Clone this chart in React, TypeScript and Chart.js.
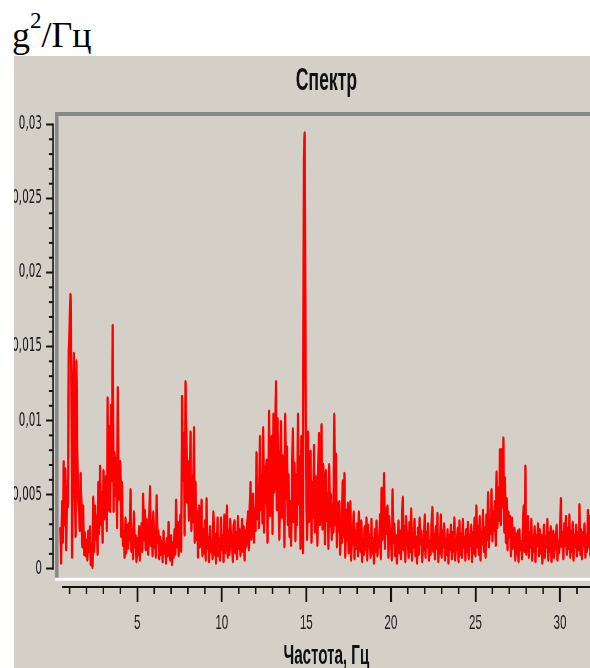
import { useEffect, useRef } from "react";
import { Chart, registerables } from "chart.js";

Chart.register(...registerables);

// ---------- texts ----------
const CHART_TITLE = "Спектр";
const X_AXIS_TITLE = "Частота, Гц";
const Y_UNIT_BASE = "g";
const Y_UNIT_POWER = "2";
const Y_UNIT_REST = "/Гц";

// ---------- axes ----------
const Y_TICKS = [0, 0.005, 0.01, 0.015, 0.02, 0.025, 0.03];
const X_TICKS = [5, 10, 15, 20, 25, 30];
const Y_MINOR_STEP = 0.001;
const X_MINOR_STEP = 1;
const X_VIEW_MIN = 0.018;
const X_VIEW_MAX = 32.35;
const Y_VIEW_MIN = -0.00124;
const Y_VIEW_MAX = 0.03064;
const X_AXIS_LINE_START = 0.55;

// ---------- spectrum (PSD, in 10^-3 g²/Гц), sampled every 0.05 Hz from 0.45 Hz ----------
const FREQ_START = 0.45;
const FREQ_STEP = 0.05;
const psd00 = [2.8,0.4,4.5,1.8,7.2,3.0,6.7,1.3,5.5,4.2,14.7,16.4,18.5,13.4,0.8,9.0,14.5,6.0,2.2,14.0,8.2,5.0,3.8,2.6,6.4,4.4,1.5,4.2,1.0,2.4,0.9,1.9,0.6,2.5,1.2,2.8,0.3,1.6,0.1,4.8];
const psd02 = [1.2,4.2,2.0,3.5,1.0,5.8,2.4,6.9,3.0,5.1,1.8,6.6,3.4,4.8,6.2,2.6,11.5,4.0,9.6,3.9,11.0,6.0,16.4,3.9,7.8,5.0,7.4,2.8,12.2,4.7,6.0,7.2,2.2,5.8,1.6,2.5,0.8,3.4,1.1,2.9];
const psd04 = [1.4,3.0,2.0,5.3,1.2,2.6,0.7,3.8,1.5,2.2,0.5,2.0,1.0,2.8,0.6,1.9,3.0,1.2,5.0,2.0,3.9,1.3,3.3,2.0,1.0,2.7,5.5,1.6,3.2,0.9,3.8,1.5,2.4,0.8,4.9,1.8,2.5,0.7,2.1,1.0];
const psd06 = [1.8,0.5,2.5,1.1,1.6,0.4,2.0,0.9,3.1,1.3,0.6,2.2,0.3,1.7,0.8,2.6,1.0,4.6,1.5,3.1,0.9,2.2,3.6,1.2,11.6,6.0,9.1,2.3,12.6,9.6,4.5,7.2,3.3,6.0,9.2,2.6,6.2,3.2,9.5,1.8];
const psd08 = [5.8,2.0,3.8,0.8,4.2,1.5,2.4,4.6,0.9,2.6,1.1,3.2,0.6,4.7,1.4,2.1,0.5,2.8,1.2,1.9,0.7,3.8,1.0,2.3,0.4,1.8,3.4,0.9,2.0,0.6,3.4,1.3,2.2,0.5,3.6,1.1,1.9,4.2,0.8,2.5];
const psd10 = [1.0,3.3,1.6,2.2,0.5,2.9,3.2,1.1,2.4,0.7,3.5,1.4,2.6,0.9,2.0,3.3,1.2,2.8,0.6,2.5,1.5,3.0,3.8,1.3,4.2,5.8,2.0,4.4,5.0,1.8,4.0,2.6,7.8,3.4,5.5,2.8,8.9,4.0,6.2,3.1];
const psd12 = [9.5,2.5,6.8,4.5,7.3,1.8,5.6,10.6,3.6,7.0,8.9,2.4,10.4,5.2,8.0,12.6,4.0,10.1,6.0,2.0,7.0,9.9,3.5,7.6,6.5,1.5,10.4,4.8,8.2,3.0,6.3,2.2,4.5,1.6,5.8,9.4,3.2,7.1,1.9,6.3];
const psd14 = [3.0,10.4,4.4,7.5,1.4,8.9,6.0,1.1,27.8,29.4,15.0,4.1,2.0,9.2,3.2,5.6,7.9,1.8,5.8,3.5,8.3,2.5,6.2,4.0,1.6,6.8,9.1,3.0,5.4,9.7,2.7,7.0,4.2,1.7,6.6,3.3,5.0,1.4,7.0,2.9];
const psd16 = [5.0,2.0,4.3,2.5,10.4,3.0,7.7,1.5,4.4,2.6,4.5,1.0,3.3,1.8,5.9,2.2,6.4,0.8,3.9,2.0,4.4,1.1,3.0,4.5,0.6,2.7,1.7,3.8,0.7,2.5,1.4,3.0,0.9,3.8,2.4,1.2,3.2,0.5,2.0,1.0];
const psd18 = [2.8,1.3,3.4,0.6,2.9,1.5,2.2,0.8,3.3,1.1,2.0,0.4,2.6,1.2,3.2,0.9,2.1,1.5,3.6,0.7,5.4,2.0,3.0,6.4,1.4,4.0,2.4,4.2,0.8,3.5,1.7,2.6,0.6,5.3,1.8,3.0,0.9,2.2,0.4,1.9];
const psd20 = [3.2,1.1,2.5,0.7,3.0,4.8,1.3,2.8,0.5,3.5,1.6,2.4,0.8,3.1,1.2,4.0,0.6,2.3,1.5,3.3,0.9,2.1,0.4,2.7,1.0,3.4,1.7,2.5,0.5,2.0,1.3,3.6,0.8,2.4,1.5,3.0,0.6,1.8,1.0,2.9];
const psd22 = [4.1,1.2,2.3,0.7,2.8,1.4,3.7,0.5,2.0,1.1,3.6,0.8,2.5,1.5,3.0,0.6,1.9,1.0,2.6,0.4,2.2,1.3,2.9,0.7,2.4,1.2,3.4,0.6,2.0,1.4,2.7,0.5,3.2,1.0,2.3,0.8,3.3,1.5,2.1,0.6];
const psd24 = [2.6,1.2,3.1,0.7,2.2,1.6,2.9,0.5,2.4,1.1,3.4,0.9,4.2,1.5,2.8,1.0,3.5,0.6,2.4,1.7,3.9,1.2,2.7,0.8,3.6,2.0,5.1,1.5,3.2,2.4,5.3,1.9,3.8,2.6,4.5,1.6,6.5,2.8,5.4,3.3];
const psd26 = [8.0,3.0,8.0,4.2,8.8,2.5,6.1,1.8,4.7,1.3,3.8,2.2,3.5,0.9,3.4,1.4,2.0,2.7,0.6,2.3,1.1,2.5,0.5,2.6,1.3,1.8,0.7,2.4,4.2,1.2,6.9,1.0,3.1,3.5,0.8,2.4,1.5,3.3,0.6,2.1];
const psd28 = [1.2,2.8,0.5,2.2,1.6,3.0,0.9,2.6,1.1,2.2,0.4,1.9,2.9,0.8,2.1,1.5,3.3,0.6,2.4,1.2,2.8,0.5,1.7,2.5,0.8,2.2,1.4,2.9,0.6,1.8,1.1,2.6,4.7,1.5,2.4,0.7,3.0,1.6,3.5,1.0];
const psd30 = [2.7,1.4,3.6,0.8,2.5,1.2,3.1,0.6,2.2,1.5,2.9,0.9,2.4,1.3,4.3,1.0,2.6,0.7,2.4,1.6,3.0,0.8,2.2,1.2,3.9,1.5,3.5,0.9,2.6,1.3,2.8];

const PSD_BLOCKS = [psd00, psd02, psd04, psd06, psd08, psd10, psd12, psd14, psd16, psd18, psd20, psd22, psd24, psd26, psd28, psd30];

// ---------- layout (the whole chart canvas is squeezed horizontally, like the original screenshot) ----------
const SQUEEZE = 0.55;
const CW = 1065;
const CH = 612;

const fmtTick = (v: number) => (Math.abs(v) < 1e-12 ? "0" : String(+v.toFixed(3)).replace(".", ","));

const decorPlugin = {
  id: "decor",
  beforeDatasetsDraw(chart: any) {
    const { ctx, chartArea: ca } = chart;
    ctx.save();
    ctx.lineCap = "butt";
    ctx.strokeStyle = "#878787";
    ctx.lineWidth = 4;
    ctx.beginPath();
    ctx.moveTo(ca.left + 4, ca.top - 1);
    ctx.lineTo(ca.right, ca.top - 1);
    ctx.stroke();
    ctx.lineWidth = 6;
    ctx.beginPath();
    ctx.moveTo(ca.left + 7, ca.top - 3);
    ctx.lineTo(ca.left + 7, ca.bottom - 9);
    ctx.stroke();
    ctx.strokeStyle = "#ffffff";
    ctx.lineWidth = 3;
    ctx.beginPath();
    ctx.moveTo(ca.left + 4, ca.bottom - 7.8);
    ctx.lineTo(ca.right, ca.bottom - 7.8);
    ctx.stroke();
    ctx.restore();
  },
  afterDraw(chart: any) {
    const { ctx, chartArea: ca, scales } = chart;
    const x = scales.x;
    const y = scales.y;
    ctx.save();
    ctx.strokeStyle = "#111";
    // y axis line (0 .. 0.03)
    ctx.lineWidth = 3;
    ctx.beginPath();
    ctx.moveTo(ca.left, y.getPixelForValue(Y_TICKS[0]) + 1);
    ctx.lineTo(ca.left, y.getPixelForValue(Y_TICKS[Y_TICKS.length - 1]) - 1);
    ctx.stroke();
    // y minor ticks
    ctx.lineWidth = 2;
    const yCount = Math.round((Y_TICKS[Y_TICKS.length - 1] - Y_TICKS[0]) / Y_MINOR_STEP);
    for (let k = 0; k <= yCount; k++) {
      const v = Y_TICKS[0] + k * Y_MINOR_STEP;
      if (Y_TICKS.some((t) => Math.abs(t - v) < 1e-9)) continue;
      const py = y.getPixelForValue(v);
      ctx.beginPath();
      ctx.moveTo(ca.left - 7.3, py);
      ctx.lineTo(ca.left, py);
      ctx.stroke();
    }
    // x axis line
    ctx.lineWidth = 2;
    ctx.beginPath();
    ctx.moveTo(x.getPixelForValue(X_AXIS_LINE_START), ca.bottom);
    ctx.lineTo(ca.right, ca.bottom);
    ctx.stroke();
    // x minor ticks
    ctx.lineWidth = 2.7;
    for (let v = X_MINOR_STEP; v <= X_VIEW_MAX; v += X_MINOR_STEP) {
      if (X_TICKS.includes(v)) continue;
      const px = x.getPixelForValue(v);
      ctx.beginPath();
      ctx.moveTo(px, ca.bottom);
      ctx.lineTo(px, ca.bottom + 7);
      ctx.stroke();
    }
    ctx.restore();
  },
};

export default function App() {
  const ref = useRef<HTMLCanvasElement>(null);

  useEffect(() => {
    const points = PSD_BLOCKS.flat().map((v, i) => ({
      x: +(FREQ_START + i * FREQ_STEP).toFixed(2),
      y: v / 1000,
    }));

    const chart = new Chart(ref.current as HTMLCanvasElement, {
      type: "line",
      data: {
        datasets: [
          {
            data: points,
            borderColor: "#ff0000",
            borderWidth: 4.2,
            borderJoinStyle: "round",
            pointRadius: 0,
            tension: 0,
            fill: false,
          },
        ],
      },
      options: {
        responsive: false,
        animation: false,
        devicePixelRatio: 1,
        events: [],
        layout: { padding: 0 },
        plugins: {
          legend: { display: false },
          tooltip: { enabled: false },
          title: {
            display: true,
            text: CHART_TITLE,
            fullSize: false,
            color: "#111",
            font: { family: "'Liberation Sans', Arial, sans-serif", size: 32, weight: "bold" },
            padding: { top: 5.8, bottom: 14.8 },
          },
        },
        scales: {
          x: {
            type: "linear",
            min: X_VIEW_MIN,
            max: X_VIEW_MAX,
            afterBuildTicks: (s: any) => {
              s.ticks = X_TICKS.map((value) => ({ value }));
            },
            afterFit: (s: any) => {
              s.height = 81;
              s.paddingLeft = 0;
              s.paddingRight = 0;
            },
            border: { display: false },
            grid: {
              display: true,
              drawOnChartArea: false,
              drawTicks: true,
              tickLength: 15,
              tickWidth: 3.4,
              tickColor: "#111",
              color: "#111",
            },
            ticks: {
              padding: 9,
              maxRotation: 0,
              autoSkip: false,
              color: "#1a1a1a",
              font: { family: "'Liberation Sans', Arial, sans-serif", size: 21 },
              callback: (v: any) => String(v),
            },
            title: {
              display: true,
              text: X_AXIS_TITLE,
              color: "#111",
              font: { family: "'Liberation Sans', Arial, sans-serif", size: 27.5, weight: "bold", lineHeight: 0.85 },
              padding: { top: 0, bottom: 0 },
            },
          },
          y: {
            type: "linear",
            min: Y_VIEW_MIN,
            max: Y_VIEW_MAX,
            afterBuildTicks: (s: any) => {
              s.ticks = Y_TICKS.map((value) => ({ value }));
            },
            afterFit: (s: any) => {
              s.width = 70.91;
              s.paddingTop = 0;
              s.paddingBottom = 0;
            },
            border: { display: false },
            grid: {
              display: true,
              drawOnChartArea: false,
              drawTicks: true,
              tickLength: 12.7,
              tickWidth: 2,
              tickColor: "#111",
              color: "#111",
            },
            ticks: {
              padding: 7.3,
              color: "#1a1a1a",
              font: { family: "'DejaVu Sans', sans-serif", size: 19 },
              callback: (v: any) => fmtTick(Number(v)),
            },
          },
        },
      },
      plugins: [decorPlugin],
    } as any);

    return () => chart.destroy();
  }, []);

  return (
    <div
      style={{
        position: "fixed",
        left: 0,
        top: 0,
        width: 590,
        height: 668,
        background: "#ffffff",
        overflow: "hidden",
      }}
    >
      <div
        style={{
          position: "absolute",
          left: 12,
          top: 17,
          fontFamily: "'Liberation Serif', 'Times New Roman', serif",
          fontSize: 36,
          lineHeight: "36px",
          color: "#000",
          whiteSpace: "nowrap",
        }}
      >
        {Y_UNIT_BASE}
        <span style={{ fontSize: 23, position: "relative", top: -19, verticalAlign: "baseline" }}>
          {Y_UNIT_POWER}
        </span>
        {Y_UNIT_REST}
      </div>
      <div
        style={{
          position: "absolute",
          left: 14,
          top: 56,
          width: 576,
          height: 612,
          background: "#d4d0c8",
          overflow: "hidden",
        }}
      >
        <div
          style={{
            width: CW,
            height: CH,
            transform: `scaleX(${SQUEEZE})`,
            transformOrigin: "0 0",
          }}
        >
          <canvas ref={ref} width={CW} height={CH} style={{ display: "block", width: CW, height: CH }} />
        </div>
      </div>
    </div>
  );
}
